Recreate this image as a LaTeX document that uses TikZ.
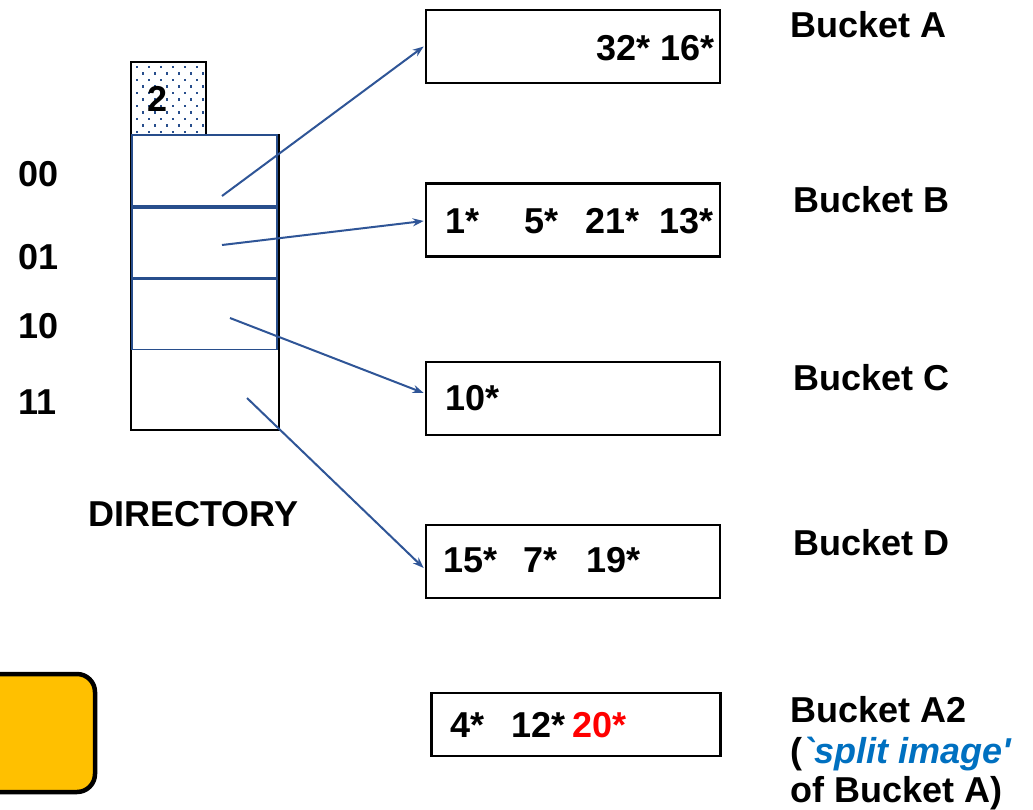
\documentclass[tikz,border=0pt]{standalone}
\usepackage{fontspec}
\setmainfont{Liberation Sans}[Ligatures=TeXOff]
\usetikzlibrary{arrows.meta}
\definecolor{dirblue}{RGB}{40,78,140}
\definecolor{arrblue}{RGB}{47,85,151}
\definecolor{imgblue}{RGB}{0,112,192}
\definecolor{gold}{RGB}{255,192,0}
\tikzset{
  txt/.style={inner sep=0pt, anchor=base west, font=\fontsize{36}{42}\selectfont\bfseries},
  bucket/.style={draw=black, line width=2.6pt, minimum width=294pt, minimum height=73pt, inner sep=0pt},
  cell/.style={draw=dirblue, line width=1.8pt, minimum width=145pt, minimum height=71pt, inner sep=0pt},
  ptr/.style={draw=arrblue, line width=2pt, -{Stealth[length=11pt,width=8pt]}},
  dotsq/.style={fill=dirblue},
}
\begin{document}
\begin{tikzpicture}[x=1pt,y=-1pt]
\clip (0,0) rectangle (1033,809);
\useasboundingbox (0,0) rectangle (1033,809);
\fill[white] (0,0) rectangle (1033,809);

% global depth box with a staggered dot screen
\node[draw=black, line width=2.2pt, minimum width=75pt, minimum height=73pt, inner sep=0pt]
  (depth) at (168.5,98.5) {};
\begin{scope}
  \clip (133,64) rectangle (204,133);
  \foreach \r in {0,...,10} {
    \pgfmathsetmacro{\off}{mod(\r,2)*6}
    \foreach \c in {0,...,6} {
      \fill[dotsq] ({137+\off+\c*12-1.3},{67+\r*6.5-1.3}) rectangle +(2.6,2.6);
    }
  }
\end{scope}
\node[txt] (depthnum) at (147,111) {2};

% directory
\node[draw=black, line width=2.6pt, minimum width=148pt, minimum height=295pt, inner sep=0pt]
  (dir) at (205,282.5) {};
\node[cell] (c0) at (204.5,170.5) {};
\node[cell] (c1) at (204.5,242) {};
\node[cell] (c2) at (204.5,314) {};
\draw[dirblue, line width=3.4pt] (c0.south west) -- (c0.south east);
\draw[dirblue, line width=3.4pt] (c1.south west) -- (c1.south east);

\node[txt] (l00) at (18,186) {00};
\node[txt] (l01) at (18,269) {01};
\node[txt] (l10) at (18,338) {10};
\node[txt] (l11) at (18,414) {11};
\node[txt] (dirlabel) at (88,526) {DIRECTORY};

% buckets
\node[bucket] (bA) at (573,46.5) {};
\node[bucket] (bB) at (573,220) {};
\node[bucket] (bC) at (573,398.5) {};
\node[bucket] (bD) at (573,561.5) {};
\node[bucket, minimum width=289pt, minimum height=63pt] (bA2) at (576,724.5) {};

\node[txt, anchor=base east] (a1) at (715,60) {32* 16*};
\node[txt] (b1) at (445,233) {1*};
\node[txt] (b2) at (524,233) {5*};
\node[txt] (b3) at (585,233) {21*};
\node[txt] (b4) at (659,233) {13*};
\node[txt] (c1t) at (445,410) {10*};
\node[txt] (d1) at (443,572) {15*};
\node[txt] (d2) at (523,572) {7*};
\node[txt] (d3) at (586,572) {19*};
\node[txt] (e1) at (450,737) {4*};
\node[txt] (e2) at (511,737) {12*};
\node[txt, text=red] (e3) at (572,737) {20*};

% bucket names
\node[txt] (nA) at (790,37) {Bucket A};
\node[txt] (nB) at (793,212) {Bucket B};
\node[txt] (nC) at (793,390) {Bucket C};
\node[txt] (nD) at (793,555) {Bucket D};
\node[txt] (nA2) at (790,722) {Bucket A2};
\node[txt] (nA2b) at (790,763) {(\textcolor{imgblue}{\itshape `split image'}};
\node[txt] (nA2c) at (790,802) {of Bucket A)};

% directory pointers
\coordinate (s0) at (222,196);
\coordinate (s1) at (222,245);
\coordinate (s2) at (230,318);
\coordinate (s3) at (247,398);
\draw[ptr] (s0) -- ([xshift=-1pt]bA.west);
\draw[ptr] (s1) -- ([xshift=-1pt,yshift=-1pt]bB.west);
\draw[ptr] (s2) -- ([xshift=-1pt,yshift=5.5pt]bC.west);
\draw[ptr] (s3) -- ([xshift=-1pt,yshift=-6.5pt]bD.west);

% yellow panel
\node[draw=black, line width=4.5pt, fill=gold, rounded corners=18pt,
      minimum width=140pt, minimum height=118pt, inner sep=0pt] (panel) at (25,733) {};
\end{tikzpicture}
\end{document}
